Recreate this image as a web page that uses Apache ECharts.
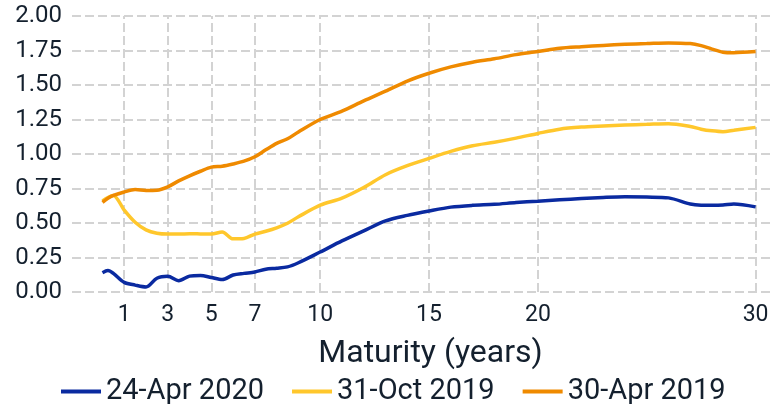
<!DOCTYPE html>
<html>
<head>
<meta charset="utf-8">
<script src="https://cdn.jsdelivr.net/npm/echarts@6/dist/echarts.min.js"></script>
<style>
  html, body { margin: 0; padding: 0; background: #fff; }
  #chart { width: 773px; height: 404px; }
</style>
</head>
<body>
<div id="chart"></div>
<script>
// maturities (years), shared by all three curves
var maturity = [0, 0.25, 0.5, 1, 1.5, 2, 2.5, 3, 3.5, 4, 4.5, 5, 5.5, 6, 6.5, 7, 7.5, 8, 8.5, 9,
  10, 11, 12, 13, 14, 15, 16, 17, 18, 19, 20, 21, 22, 23, 24, 25, 26, 27, 27.5, 28, 28.5, 29, 30];

var apr2020 = [0.14, 0.155, 0.135, 0.07, 0.05, 0.036, 0.10, 0.114, 0.082, 0.115, 0.12, 0.105, 0.09, 0.123, 0.135, 0.145, 0.165, 0.172, 0.182, 0.212,
  0.29, 0.37, 0.443, 0.515, 0.555, 0.587, 0.615, 0.628, 0.635, 0.648, 0.658, 0.668, 0.677, 0.685, 0.69, 0.688, 0.682, 0.638, 0.629, 0.628, 0.63, 0.638, 0.617];

var oct2019 = [0.66, 0.685, 0.70, 0.593, 0.505, 0.45, 0.426, 0.42, 0.42, 0.422, 0.421, 0.42, 0.435, 0.385, 0.388, 0.42, 0.44, 0.465, 0.498, 0.545,
  0.629, 0.68, 0.757, 0.85, 0.915, 0.968, 1.019, 1.06, 1.085, 1.115, 1.149, 1.18, 1.195, 1.203, 1.21, 1.215, 1.22, 1.20, 1.18, 1.168, 1.162, 1.172, 1.193];

var apr2019 = [0.65, 0.68, 0.70, 0.725, 0.742, 0.735, 0.737, 0.762, 0.805, 0.842, 0.875, 0.905, 0.912, 0.928, 0.948, 0.98, 1.03, 1.077, 1.11, 1.16,
  1.25, 1.31, 1.385, 1.455, 1.528, 1.585, 1.631, 1.665, 1.69, 1.72, 1.742, 1.767, 1.778, 1.787, 1.795, 1.80, 1.805, 1.80, 1.785, 1.76, 1.738, 1.734, 1.742];

var seriesNames = ['24-Apr 2020', '31-Oct 2019', '30-Apr 2019'];
var seriesColors = ['#0a2aa0', '#ffc72c', '#ef8a00'];

// x tick labels / vertical grid lines
var xTicks = [1, 3, 5, 7, 10, 15, 20, 30];

var textColor = '#14202e';
var gridColor = '#d3d3d3';

function pairs(values) {
  return maturity.map(function (m, i) { return [m, values[i]]; });
}

var chart = echarts.init(document.getElementById('chart'));

var option = {
  backgroundColor: '#fff',
  animation: false,
  grid: { left: 72, right: 0, top: 16, bottom: 112 },
  legend: {
    data: seriesNames,
    top: 372,
    left: 56,
    icon: 'rect',
    itemWidth: 40,
    itemHeight: 4,
    itemGap: 28,
    textStyle: { color: textColor, fontSize: 29, fontFamily: 'Roboto' }
  },
  xAxis: {
    type: 'value',
    min: -1.4,
    max: 30.8,
    name: 'Maturity (years)',
    nameLocation: 'middle',
    nameGap: 46,
    nameTextStyle: { color: textColor, fontSize: 32, fontFamily: 'Roboto', padding: [0, 0, 0, 16] },
    axisLine: { show: false },
    axisTick: { show: false },
    splitLine: { show: false },
    axisLabel: {
      customValues: xTicks,
      color: textColor,
      fontSize: 23,
      fontFamily: 'Roboto',
      margin: 12
    }
  },
  yAxis: {
    type: 'value',
    min: 0,
    max: 2,
    interval: 0.25,
    axisLine: { show: false },
    axisTick: { show: false },
    axisLabel: {
      color: textColor,
      fontSize: 24,
      fontFamily: 'Roboto',
      margin: 10,
      formatter: function (v) { return v.toFixed(2); }
    },
    splitLine: { lineStyle: { color: gridColor, width: 2, type: [9, 4] } }
  },
  series: seriesNames.map(function (name, i) {
    var s = {
      name: name,
      type: 'line',
      data: pairs([apr2020, oct2019, apr2019][i]),
      smooth: 0.3,
      symbol: 'none',
      lineStyle: { color: seriesColors[i], width: 3.5 },
      itemStyle: { color: seriesColors[i] },
      z: 3 + i
    };
    if (i === 0) {
      s.markLine = {
        silent: true,
        symbol: 'none',
        label: { show: false },
        lineStyle: { color: gridColor, width: 2, type: [9, 4] },
        data: xTicks.map(function (t) { return { xAxis: t }; }),
        z: 1
      };
    }
    return s;
  })
};

chart.setOption(option);
</script>
</body>
</html>
